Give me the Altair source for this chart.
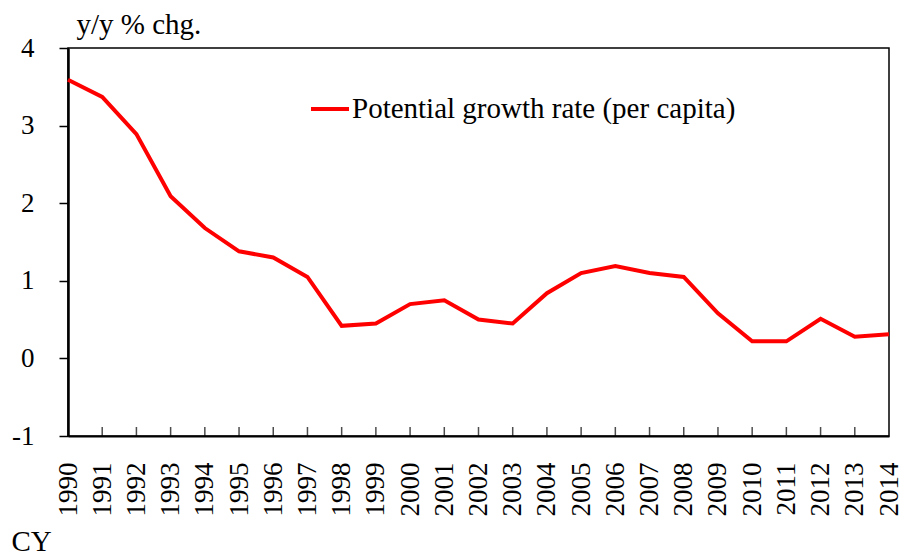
import altair as alt
import pandas as pd

years = list(range(1990, 2015))
growth = [3.59, 3.37, 2.89, 2.09, 1.68, 1.38, 1.30, 1.05, 0.42, 0.45,
          0.70, 0.75, 0.50, 0.45, 0.84, 1.10, 1.19, 1.10, 1.05, 0.58,
          0.22, 0.22, 0.51, 0.28, 0.31]
series_name = "Potential growth rate (per capita)"
y_ticks = [-1, 0, 1, 2, 3, 4]
inner_tick_years = years[1:-1]

FONT = "Liberation Serif"
FS = 27
TFS = 29

df = pd.DataFrame({"year": years, "value": growth, "series": series_name})
tdf = pd.DataFrame({"year": inner_tick_years})

x_scale = alt.Scale(domain=[1990, 2014], nice=False, zero=False)
y_scale = alt.Scale(domain=[-1, 4], nice=False, zero=False)

x_axis = alt.Axis(values=years, format="d", labelAngle=-90, tickSize=0,
                  labelPadding=26, grid=False, domainColor="black",
                  domainWidth=2, labelColor="black",
                  labelFont=FONT, labelFontSize=FS,
                  labelOverlap=False, labelFlush=False, labelBound=False,
                  title="CY", titleAngle=0, titleAlign="left",
                  titleBaseline="alphabetic", titleX=-57, titleY=114,
                  titleFont=FONT, titleFontSize=TFS,
                  titleFontWeight="normal", titleColor="black")
y_axis = alt.Axis(values=y_ticks, tickSize=9, tickWidth=1.5,
                  tickColor="black",
                  labelExpr="toString(datum.value)",
                  labelPadding=25, grid=False, domainColor="black",
                  domainWidth=2.5, labelColor="black",
                  labelFont=FONT, labelFontSize=FS,
                  labelOverlap=False, labelFlush=False, labelBound=False,
                  title="y/y % chg.", titleAngle=0, titleAlign="left",
                  titleBaseline="alphabetic", titleX=8, titleY=-15,
                  titleFont=FONT, titleFontSize=TFS,
                  titleFontWeight="normal", titleColor="black")

line = alt.Chart(df).mark_line(strokeWidth=4).encode(
    x=alt.X("year:Q", scale=x_scale, axis=x_axis),
    y=alt.Y("value:Q", scale=y_scale, axis=y_axis),
    color=alt.Color("series:N", scale=alt.Scale(range=["#ff0000"]),
                    legend=alt.Legend(title=None, orient="none", legendX=241, legendY=40,
                                      symbolType="stroke", symbolSize=1444,
                                      symbolStrokeWidth=4, labelOffset=1,
                                      labelFont=FONT, labelFontSize=TFS,
                                      labelColor="black", labelLimit=600)),
)

ticks = alt.Chart(tdf).mark_tick(size=9, thickness=1.5, color="black", yOffset=-4.5,
                                 orient="vertical").encode(
    x=alt.X("year:Q", scale=x_scale, axis=x_axis),
    y=alt.datum(-1, scale=y_scale, axis=y_axis),
)

chart = alt.layer(line, ticks).properties(
    width=821, height=388,
    autosize=alt.AutoSizeParams(type="none"),
    padding={"left": 60, "top": 40, "right": 13, "bottom": 125},
).configure_view(
    stroke="black", strokeWidth=1.5
)

chart.save("out.html", embed_options={"renderer": "svg", "actions": False})
